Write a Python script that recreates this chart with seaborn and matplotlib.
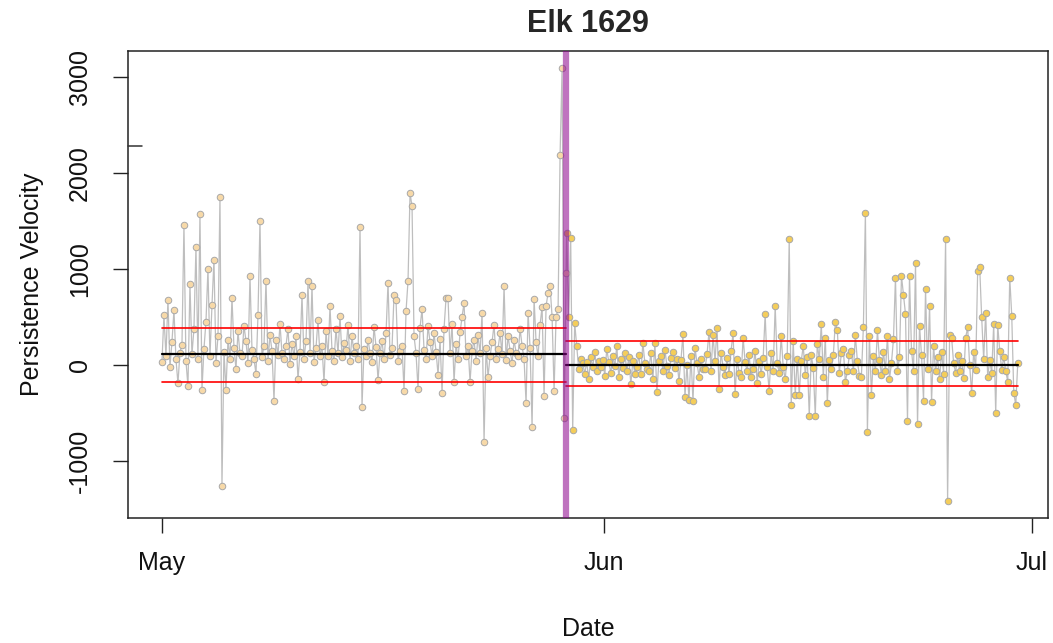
import numpy as np
import pandas as pd
import matplotlib
matplotlib.use("Agg")
import matplotlib.pyplot as plt
import matplotlib.transforms as mtransforms
import seaborn as sns

# ---------------- data ----------------
title = "Elk 1629"
x_label = "Date"
y_label = "Persistence Velocity"

left_start = "2019-05-01 00:00"
change_point = "2019-05-29 08:00"
right_end = "2019-06-30 00:00"

# persistence velocity, first segment (May 1 -> change point)
left_values = [
    30, 520, 90, 680, -20, 240, 570, 60, -190, 130,
    210, 1460, 40, -220, 843, 110, 380, 1230, 60, 1573,
    -260, 170, 450, 1000, 90, 620, 1094, 20, 300, 1753,
    -1260, 140, -260, 260, 60, 698, 180, -40, 350, 120,
    90, 410, 250, 20, 927, 160, 60, -90, 520, 1503,
    80, 200, 878, 40, 310, 150, -370, 260, 100, 430,
    120, 60, 200, 380, 10, 220, 90, 300, -150, 140,
    730, 60, 250, 870, 120, 820, 30, 180, 470, 90,
    200, -180, 350, 90, 610, 150, 40, 380, 120, 510,
    80, 230, 160, 420, 40, 300, 120, 200, 60, 1440,
    -434, 170, 90, 260, 130, 30, 400, 190, -156, 120,
    250, 60, 330, 857, 100, 180, 729, 677, 40, 150,
    200, -268, 560, 878, 1790, 1655, 300, 120, -250, 390,
    583, 160, 60, 410, 240, 90, 330, 140, -100, 270,
    -292, 380, 698, 698, 120, 430, -177, 220, 60, 340,
    500, 649, 90, 200, -177, 150, 260, 40, 310, 120,
    545, -799, 180, -122, 90, 240, 420, 60, 170, 330,
    110, 823, 50, 300, 150, 20, 260, 130, 90, 380,
    200, 60, -396, 545, 180, -646, 688, 240, 90, 420,
    604, -323, 615, 750, 823, 503, -268, 500, 583, 2190,
    3090, -552, 958,
]

# persistence velocity, second segment (change point -> Jun 30)
right_values = [
    1375, 500, 1326, -677, 437, 201, -40, 60, 20, -90, 30,
    -150, 80, -20, 140, -60, 40, -20, 50, -110, 167,
    30, -80, 90, -10, 201, -130, 60, -30, 120, -60,
    80, -200, 40, -90, -20, 100, -90, 232, 20, -40,
    -60, 130, -150, 230, -285, 40, 90, -60, 160, -10,
    -100, 70, 140, -30, 60, -170, 50, 323, -330, 0,
    -365, 90, -375, 180, 20, -120, 60, -40, -40, 110,
    347, -60, 312, 40, 385, -250, 130, -20, -100, 70,
    -90, 150, 333, -302, 60, -80, -130, 285, 30, -60,
    100, -120, -40, 150, -190, 40, -90, 70, 528, -20,
    -268, 130, -60, 615, 20, -80, 300, -20, -150, 90,
    1309, -417, 250, -312, 60, -312, 40, 200, -100, 80,
    -531, 100, -30, -531, 220, 60, 427, -130, 285, -399,
    50, -40, 100, 444, 365, -80, 120, 170, -180, -60,
    100, 150, -60, 310, 40, -110, -120, 399, 1587, -694,
    302, -312, 90, -60, 360, 50, -100, 140, -60, 300,
    -150, 20, 270, 910, -60, 80, 927, 729, 531, -580,
    927, 150, -60, 1059, -615, 410, 100, -372, 792, -40,
    615, -382, 200, -60, 80, -150, 140, -90, 1309, -1413,
    312, 285, 20, -80, 100, -60, 40, -140, 285, 392,
    0, -295, 140, -50, 979, 1024, 496, 60, 545, -120,
    50, -80, 427, -503, 417, 150, -50, 80, -60, -174,
    910, 514, -288, -417, 20,
]

# segment summaries: mean and upper/lower band
left_mean, left_upper, left_lower = 115, 385, -177
right_mean, right_lower_band, right_upper_band = 5, -220, 250

x_ticks = ["2019-05-01", "2019-06-01", "2019-07-01"]
x_tick_labels = ["May", "Jun", "Jul"]
y_ticks = [-1000, 0, 1000, 2000, 3000]
stray_tick_value = 2281

# ---------------- build frames ----------------
left_times = pd.date_range(left_start, change_point, periods=len(left_values))
right_times = pd.date_range(pd.Timestamp(change_point) + pd.Timedelta(hours=1),
                            right_end, periods=len(right_values))
df_left = pd.DataFrame({"time": left_times, "v": left_values})
df_right = pd.DataFrame({"time": right_times, "v": right_values})
df_all = pd.concat([df_left, df_right], ignore_index=True)

# ---------------- style ----------------
sns.set_style("ticks")
plt.rcParams["font.family"] = ["Liberation Sans", "DejaVu Sans"]

fig = plt.figure(figsize=(10.53, 6.43), dpi=100)
ax = fig.add_axes([128 / 1053, 1 - 518 / 643, 920 / 1053, 467 / 643])

line_gray = "#BEBEBE"
sns.lineplot(data=df_all, x="time", y="v", ax=ax, color=line_gray,
             linewidth=0.9, zorder=2, estimator=None, sort=False)
sns.scatterplot(data=df_left, x="time", y="v", ax=ax, color="#F7D9A8",
                edgecolor="#A8A8A8", linewidth=0.7, s=22, zorder=3)
sns.scatterplot(data=df_right, x="time", y="v", ax=ax, color="#F4CD5A",
                edgecolor="#A8A8A8", linewidth=0.7, s=22, zorder=3)

t0 = pd.Timestamp(left_start)
tc = pd.Timestamp(change_point)
t1 = pd.Timestamp(right_end)

# segment mean and band lines
for (a, b, m, lo, hi) in [(t0, tc, left_mean, left_lower, left_upper),
                          (tc, t1, right_mean, right_lower_band, right_upper_band)]:
    seg = pd.DataFrame({"time": [a, b], "m": [m, m], "lo": [lo, lo], "hi": [hi, hi]})
    sns.lineplot(data=seg, x="time", y="hi", ax=ax, color="#FF0000", linewidth=1.2, zorder=4)
    sns.lineplot(data=seg, x="time", y="lo", ax=ax, color="#FF0000", linewidth=1.2, zorder=4)
    sns.lineplot(data=seg, x="time", y="m", ax=ax, color="black", linewidth=1.6, zorder=4)

# change point
ax.axvline(tc, color="#8B008B", alpha=0.55, linewidth=4.5, zorder=5)

# stray small tick drawn inside the left axis
trans = mtransforms.blended_transform_factory(ax.transAxes, ax.transData)
ax.plot([0, 14 / 920], [stray_tick_value, stray_tick_value], color="#333333",
        linewidth=1.1, transform=trans, clip_on=False, zorder=6)

# axes limits and ticks
ax.set_xlim(t0 - pd.Timedelta(days=2.38), pd.Timestamp("2019-07-01") + pd.Timedelta(days=1.12))
ax.set_ylim(-1594, 3271)
ax.set_xticks(pd.to_datetime(x_ticks))
ax.set_xticklabels(x_tick_labels)
ax.set_yticks(y_ticks)
ax.set_yticklabels([str(v) for v in y_ticks], rotation=90, va="center")

for sp in ax.spines.values():
    sp.set_visible(True)
    sp.set_color("#222222")
    sp.set_linewidth(1.1)

ax.tick_params(axis="both", direction="out", length=11, width=1.0,
               color="#222222", labelsize=18, labelcolor="#111111")
ax.tick_params(axis="x", pad=13)
ax.tick_params(axis="y", pad=15)

ax.set_xlabel(x_label, fontsize=18, labelpad=30, color="#111111")
ax.set_ylabel(y_label, fontsize=18, labelpad=17, color="#111111")
ax.set_title(title, fontsize=22, fontweight="bold", pad=14)

fig.savefig("out.png", dpi=100)
